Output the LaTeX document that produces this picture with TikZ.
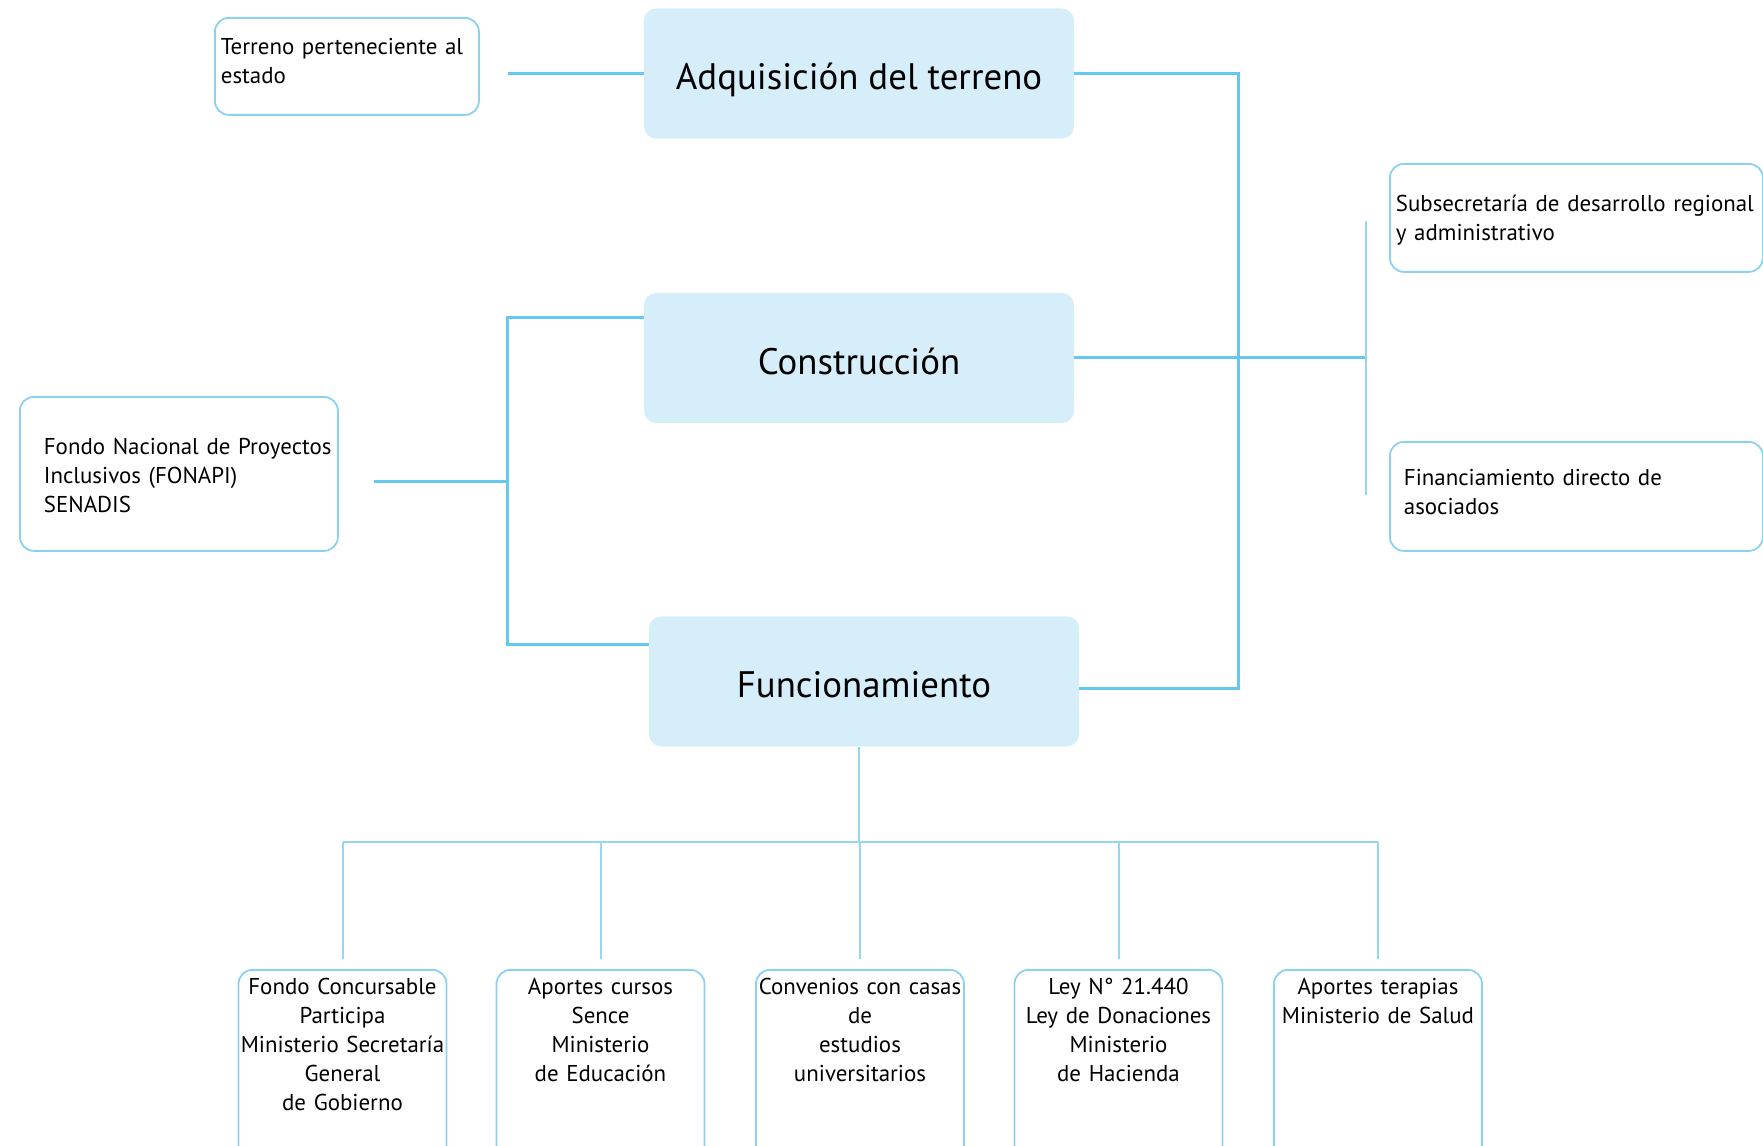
\documentclass[tikz,border=0pt]{standalone}
\usepackage{fontspec}
\setmainfont{PT Sans}
\usetikzlibrary{positioning}
\definecolor{celeste}{RGB}{214,238,250}
\definecolor{linea}{RGB}{100,200,240}
\definecolor{borde}{RGB}{140,210,240}
\definecolor{ramalc}{RGB}{150,215,240}
\newcommand{\sangria}{\hspace*{9bp}}

\begin{document}
\begin{tikzpicture}[x=0.5bp,y=-0.5bp,
  etapa/.style={rectangle,rounded corners=6bp,fill=celeste,minimum width=215bp,
    minimum height=65bp,text height=18bp,text depth=1.5bp,
    font=\fontsize{18.5}{22}\selectfont},
  fuente/.style={rectangle,rounded corners=7bp,draw=borde,line width=0.9bp,fill=white,
    anchor=north west,inner ysep=0pt,align=left,font=\fontsize{11.5}{14.5}\selectfont},
  aporte/.style={fuente,anchor=north,align=center,text width=104bp,inner xsep=0pt,
    text height=12.5bp,text depth=95bp},
  conector/.style={draw=linea,line width=1.5bp},
  ramal/.style={draw=ramalc,line width=1bp}]

\useasboundingbox (0,0) rectangle (1763,1146);
\clip (0,0) rectangle (1763,1146);

% Main stages
  \node[etapa] (adq) at (859,73.5) {Adquisición del terreno};
  \node[etapa] (cons) at (859,358) {Construcción};
  \node[etapa] (func) at (864,681.5) {Funcionamiento};

% Sources, left and right
  \node[fuente,text width=126bp,inner xsep=3bp,text height=18.5bp,text depth=30bp]
    (terreno) at (214,17) {Terreno perteneciente al\\estado};
  \node[fuente,text width=153bp,inner xsep=3bp,text height=29bp,text depth=48bp]
    (fonapi) at (19,396) {\sangria\mbox{Fondo Nacional de Proyectos}\\\sangria Inclusivos (FONAPI)\\\sangria SENADIS};
  \node[fuente,text width=180.5bp,inner xsep=3bp,text height=24bp,text depth=30bp]
    (subsec) at (1389,163) {Subsecretaría de desarrollo regional\\y administrativo};
  \node[fuente,text width=172.5bp,inner xsep=7bp,text height=22bp,text depth=32.5bp]
    (financ) at (1389,441) {Financiamiento directo de\\asociados};

% Funding for operation
  \node[aporte] (fondo) at (342.5,969) {Fondo Concursable\\Participa\\Ministerio Secretaría\\General\\de Gobierno};
  \node[aporte] (sence) at (600.5,969) {Aportes cursos\\Sence\\Ministerio\\de Educación};
  \node[aporte] (conv) at (860,969) {Convenios con casas\\de\\estudios\\universitarios};
  \node[aporte] (ley) at (1118.5,969) {Ley N° 21.440\\Ley de Donaciones\\Ministerio\\de Hacienda};
  \node[aporte] (salud) at (1378,969) {Aportes terapias\\Ministerio de Salud};

% Connectors
  \coordinate (t1) at (508,74);
  \coordinate (bus) at (1238,0);
  \coordinate (fe) at ([yshift=-3.75bp]func.east);
  \coordinate (r1) at (1366,221);
  \coordinate (r2) at (1366,495);
  \coordinate (f1) at (374,482);
  \coordinate (f2) at (507,482);
  \coordinate (b0) at (859,842);

  \draw[conector] (t1) -- (t1 -| adq.west);
  \draw[conector] (adq.east) -| (bus |- fe) -- (fe);
  \draw[conector] (cons.east) -- (cons.east -| r1);
  \draw[ramal] (r1) -- (r2);

  \draw[conector] (f1) -- (f2);
  \draw[conector] (cons.west |- 0,318) -| (f2) |- (func.west |- 0,645);

  \draw[ramal] (func.south -| b0) -- (b0);
  \draw[ramal] (fondo.north |- b0) -- (salud.north |- b0);
  \foreach \n in {fondo,sence,conv,ley,salud}
    \draw[ramal] (\n.north |- b0) -- ([yshift=5bp]\n.north);

\end{tikzpicture}
\end{document}
